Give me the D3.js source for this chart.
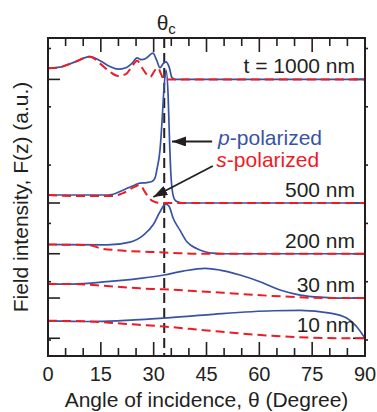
<!DOCTYPE html>
<html>
<head>
<meta charset="utf-8">
<script src="https://cdn.jsdelivr.net/npm/d3@7"></script>
<style>
    body { margin: 0; background: #fff; }
    svg text { font-family: "Liberation Sans", Arial, sans-serif; font-size: 21px; fill: #231f20; }
    svg text.xlabel { font-size: 20px; }
    .frame { fill: none; stroke: #231f20; stroke-width: 2px; }
    .tick { stroke: #231f20; stroke-width: 1.6px; }
    .p-line { fill: none; stroke: #3953a4; stroke-width: 1.7px; }
    .s-line { fill: none; stroke: #ed1c24; stroke-width: 2px; stroke-dasharray: 9,5; }
</style>
</head>
<body>
<div id="chart"></div>
<script>
    // angle of incidence (deg), field intensity relative to each panel baseline (a.u.)
    var angleTicks = [0, 15, 30, 45, 60, 75, 90];
    var thicknessLabels = ["t = 1000 nm", "500 nm", "200 nm", "30 nm", "10 nm"];
    var offsets = [4.47, 2.35, 1.48, 0.72, 0.03];
    var thetaC = 33;

    var p1000 = [[0, 0.19], [3.4, 0.21], [7.7, 0.30], [11.9, 0.39], [14.8, 0.32], [17.6, 0.22], [19.9, 0.175],
        [22.1, 0.20], [23.9, 0.28], [25.3, 0.37], [26.4, 0.34], [27.8, 0.36], [29.8, 0.45], [30.9, 0.32],
        [31.8, 0.20], [32.7, 0.27], [33.5, 0.30], [34.4, 0.21], [35.2, 0.03], [36.1, 0], [90, 0]];
    var s1000 = [[0, 0.19], [3.4, 0.21], [7.7, 0.30], [11.9, 0.39], [14.8, 0.27], [17.6, 0.13], [19.9, 0.06],
        [22.1, 0.09], [23.6, 0.20], [25.3, 0.32], [26.7, 0.20], [28.1, 0.08], [29.0, 0.04], [30.4, 0.16],
        [31.2, 0.20], [32.1, 0.09], [32.9, 0], [90, 0]];

    var p500 = [[0, 0.137], [16.8, 0.137], [18.5, 0.15], [21.3, 0.22], [24.7, 0.31], [26.1, 0.34], [28.1, 0.35],
        [29.5, 0.37], [30.4, 0.43], [30.9, 0.57], [31.8, 0.91], [32.4, 1.42], [32.9, 1.94], [33.5, 2.28],
        [34.1, 1.85], [34.5, 1.08], [34.9, 0.48], [35.6, 0.11], [36.3, 0.034], [37.5, 0.009], [40.3, 0], [90, 0]];
    var s500 = [[0, 0.137], [9.1, 0.12], [18.5, 0.12], [21.3, 0.17], [24.7, 0.28], [26.1, 0.31], [27.5, 0.19],
        [28.9, 0.07], [30.4, 0.017], [32.4, 0], [90, 0]];

    var p200 = [[0, 0.158], [16.8, 0.151], [23.3, 0.20], [27.1, 0.32], [29.9, 0.50], [31.8, 0.72], [33.4, 0.85],
        [34.3, 0.82], [35.6, 0.60], [37.5, 0.40], [39.5, 0.20], [42.2, 0.089], [44.6, 0.034], [46.8, 0.009],
        [50, 0], [90, 0]];
    var s200 = [[0, 0.158], [11.9, 0.146], [14.8, 0.094], [19.5, 0.06], [29.0, 0.031], [35.5, 0.014], [43.2, 0], [90, 0]];

    var p30 = [[0, 0.24], [7.1, 0.24], [16.7, 0.28], [26.1, 0.338], [32.9, 0.395], [38.4, 0.463], [44.6, 0.509],
        [48.8, 0.48], [54.5, 0.395], [60.2, 0.28], [65.9, 0.137], [71.6, 0.051], [78.2, 0.012], [82.9, 0], [90, 0]];
    var s30 = [[0, 0.24], [7.1, 0.24], [16.7, 0.206], [26.1, 0.166], [32.9, 0.149], [40.2, 0.125], [49.7, 0.091],
        [59.3, 0.051], [68.7, 0.022], [78.1, 0], [90, 0]];

    var p10 = [[0, 0.30], [11.9, 0.288], [32.7, 0.346], [45.1, 0.403], [63.9, 0.472], [71.6, 0.477], [80.1, 0.432],
        [84.8, 0.346], [87.6, 0.202], [90, 0]];
    var s10 = [[0, 0.30], [11.9, 0.288], [21.4, 0.249], [32.9, 0.202], [45.1, 0.134], [59.3, 0.06], [73.6, 0.014],
        [87.2, 0], [90, 0]];

    var pCurves = [p1000, p500, p200, p30, p10];
    var sCurves = [s1000, s500, s200, s30, s10];

    // annotation anchors [angle, absolute y value]
    var pLabelAt = [48.3, 3.34];
    var pArrow = [[46.6, 3.405], [35.2, 3.405]];
    var sLabelAt = [47.8, 2.973];
    var sArrow = [[46.8, 2.985], [29.9, 2.453]];

    var margin = { top: 38, right: 12, bottom: 56, left: 48 };
    var width = 377 - margin.left - margin.right;
    var height = 412 - margin.top - margin.bottom;

    var svg = d3.select("#chart")
        .append("svg")
        .attr("width", 377)
        .attr("height", 412);

    svg.append("defs").append("marker")
        .attr("id", "head")
        .attr("viewBox", "0 0 14 10")
        .attr("refX", 14)
        .attr("refY", 5)
        .attr("markerWidth", 14)
        .attr("markerHeight", 10)
        .attr("markerUnits", "userSpaceOnUse")
        .attr("orient", "auto")
        .append("path")
        .attr("d", "M0,0 L14,5 L0,10 Z")
        .attr("fill", "#231f20");

    var g = svg.append("g")
        .attr("transform", "translate(" + margin.left + "," + margin.top + ")");

    var x = d3.scaleLinear().domain([0, 90]).range([0, width]);
    var y = d3.scaleLinear().domain([-0.274, 5.18]).range([height, 0]);

    // x ticks (bottom and top, inward)
    var minorX = d3.range(0, 91, 5);
    minorX.forEach(function (a) {
        var len = angleTicks.indexOf(a) >= 0 ? 14 : 8;
        g.append("line").attr("class", "tick")
            .attr("x1", x(a)).attr("x2", x(a)).attr("y1", height).attr("y2", height - len);
        g.append("line").attr("class", "tick")
            .attr("x1", x(a)).attr("x2", x(a)).attr("y1", 0).attr("y2", len);
    });
    g.selectAll(".xlabel")
        .data(angleTicks)
        .enter().append("text")
        .attr("class", "xlabel")
        .attr("x", function (d) { return x(d); })
        .attr("y", height + 25)
        .attr("text-anchor", "middle")
        .text(function (d) { return d; });

    // y ticks: small unit ticks and long baseline ticks
    y.ticks(5).filter(function (d) { return d >= 0; }).forEach(function (v) {
        g.append("line").attr("class", "tick")
            .attr("x1", 0).attr("x2", 3).attr("y1", y(v)).attr("y2", y(v));
        g.append("line").attr("class", "tick")
            .attr("x1", width).attr("x2", width + 3).attr("y1", y(v)).attr("y2", y(v));
    });
    offsets.forEach(function (o) {
        g.append("line").attr("class", "tick")
            .attr("x1", 0).attr("x2", 12).attr("y1", y(o)).attr("y2", y(o));
        g.append("line").attr("class", "tick")
            .attr("x1", width - 12).attr("x2", width).attr("y1", y(o)).attr("y2", y(o));
    });

    // critical angle
    g.append("line")
        .attr("x1", x(thetaC)).attr("x2", x(thetaC))
        .attr("y1", 0).attr("y2", height)
        .attr("stroke", "#231f20").attr("stroke-width", 2)
        .attr("stroke-dasharray", "10,5");
    var tc = g.append("text")
        .attr("x", x(thetaC) + 2)
        .attr("y", -8)
        .attr("text-anchor", "middle");
    tc.append("tspan").text("θ");
    tc.append("tspan").attr("dy", 4).style("font-size", "15px").text("c");

    var line = d3.line()
        .x(function (d) { return x(d[0]); })
        .y(function (d) { return d[1]; })
        .curve(d3.curveMonotoneX);

    function shifted(curve, o) {
        return curve.map(function (d) { return [d[0], y(d[1] + o)]; });
    }

    pCurves.forEach(function (c, i) {
        g.append("path").attr("class", "p-line").attr("d", line(shifted(c, offsets[i])));
    });
    sCurves.forEach(function (c, i) {
        g.append("path").attr("class", "s-line").attr("d", line(shifted(c, offsets[i])));
    });

    // thickness labels
    g.selectAll(".tlabel")
        .data(thicknessLabels)
        .enter().append("text")
        .attr("class", "tlabel")
        .attr("x", width - 10)
        .attr("y", function (d, i) { return y(offsets[i]) - 6; })
        .attr("text-anchor", "end")
        .text(function (d) { return d; });

    // polarization annotations
    var pt = g.append("text")
        .attr("x", x(pLabelAt[0])).attr("y", y(pLabelAt[1]))
        .style("fill", "#3953a4");
    pt.append("tspan").style("font-style", "italic").style("fill", "#3953a4").text("p");
    pt.append("tspan").style("fill", "#3953a4").text("-polarized");

    var st = g.append("text")
        .attr("x", x(sLabelAt[0])).attr("y", y(sLabelAt[1]))
        .style("fill", "#ed1c24");
    st.append("tspan").style("font-style", "italic").style("fill", "#ed1c24").text("s");
    st.append("tspan").style("fill", "#ed1c24").text("-polarized");

    [pArrow, sArrow].forEach(function (a) {
        g.append("line")
            .attr("x1", x(a[0][0])).attr("y1", y(a[0][1]))
            .attr("x2", x(a[1][0])).attr("y2", y(a[1][1]))
            .attr("stroke", "#231f20").attr("stroke-width", 1.8)
            .attr("marker-end", "url(#head)");
    });

    // frame
    g.append("rect").attr("class", "frame")
        .attr("x", 0).attr("y", 0).attr("width", width).attr("height", height);

    // axis titles
    g.append("text")
        .attr("x", width / 2)
        .attr("y", height + 51)
        .attr("text-anchor", "middle")
        .text("Angle of incidence, θ (Degree)");
    g.append("text")
        .attr("transform", "translate(-20," + (height / 2) + ") rotate(-90)")
        .attr("text-anchor", "middle")
        .text("Field intensity, F(z) (a.u.)");
</script>
</body>
</html>
